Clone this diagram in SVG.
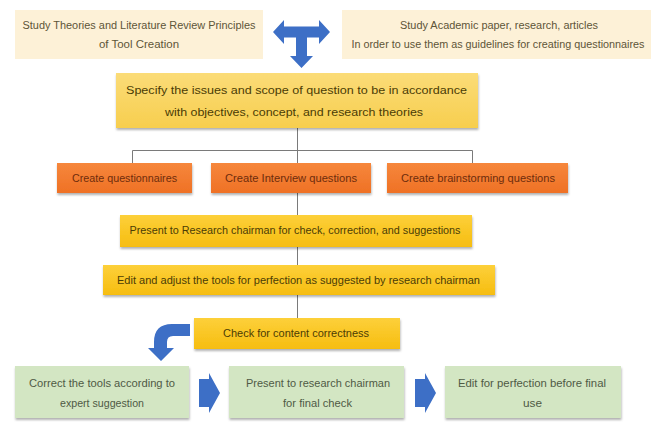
<svg xmlns="http://www.w3.org/2000/svg" width="651" height="425" viewBox="0 0 651 425">
<defs>
<filter id="sh" x="-5%" y="-10%" width="110%" height="140%">
<feDropShadow dx="0.5" dy="2" stdDeviation="1.2" flood-color="#000" flood-opacity="0.3"/>
</filter>
<linearGradient id="gy1" x1="0" y1="0" x2="0" y2="1">
<stop offset="0" stop-color="#fbdc78"/><stop offset="1" stop-color="#f7ce4e"/>
</linearGradient>
<linearGradient id="gy2" x1="0" y1="0" x2="0" y2="1">
<stop offset="0" stop-color="#fdd03a"/><stop offset="1" stop-color="#f6bd10"/>
</linearGradient>
<linearGradient id="go" x1="0" y1="0" x2="0" y2="1">
<stop offset="0" stop-color="#f6873c"/><stop offset="1" stop-color="#ef7125"/>
</linearGradient>
</defs>
<style>
text{font-family:"Liberation Sans",Arial,sans-serif;font-size:10px;text-anchor:middle}
.cream{fill:#fdf1d7}
.y1{fill:url(#gy1)}
.y2{fill:url(#gy2)}
.or{fill:url(#go)}
.gr{fill:#d3e6c3}
.tc{fill:#5e5538}
.ty{fill:#4b3c05}
.to{fill:#6e2c0c}
.tg{fill:#4f5a45}
.ln{stroke:#7a7a7a;stroke-width:1;fill:none}
.bl{fill:#3d6fc6}
</style>
<rect width="651" height="425" fill="#ffffff"/>
<g id="connectors">
<path class="ln" d="M297.5 128V150.5M132.5 163V150.5H472.5V163M297.5 150.5V163M297.5 193V215M297.5 247V265M297.5 295V318"/>
</g>
<g id="arrow-t">
<polygon class="bl" points="273,32 284,20 284,26.5 319,26.5 319,20 330,32 319,44 319,37.5 307,37.5 307,56 313,56 301.5,68 290,56 296,56 296,37.5 284,37.5 284,44"/>
</g>
<g id="n1">
<rect class="cream" x="15" y="10" width="248" height="49"/>
<text class="tc" x="139" y="29" textLength="233" lengthAdjust="spacingAndGlyphs">Study Theories and Literature Review Principles</text>
<text class="tc" x="139" y="48" textLength="80" lengthAdjust="spacingAndGlyphs">of Tool Creation</text>
</g>
<g id="n2">
<rect class="cream" x="342" y="10" width="309" height="49"/>
<text class="tc" x="499" y="29" textLength="198" lengthAdjust="spacingAndGlyphs">Study Academic paper, research, articles</text>
<text class="tc" x="498" y="48" textLength="293" lengthAdjust="spacingAndGlyphs">In order to use them as guidelines for creating questionnaires</text>
</g>
<g id="n3">
<rect class="y1" x="116" y="73" width="362" height="55" filter="url(#sh)"/>
<text class="ty" x="296.5" y="94" font-size="11" textLength="341" lengthAdjust="spacingAndGlyphs">Specify the issues and scope of question to be in accordance</text>
<text class="ty" x="294" y="116" font-size="11" textLength="258" lengthAdjust="spacingAndGlyphs">with objectives, concept, and research theories</text>
</g>
<g id="n4">
<rect class="or" x="57" y="163" width="135" height="30" filter="url(#sh)"/>
<text class="to" x="124.5" y="182" textLength="105" lengthAdjust="spacingAndGlyphs">Create questionnaires</text>
</g>
<g id="n5">
<rect class="or" x="211" y="163" width="160" height="30" filter="url(#sh)"/>
<text class="to" x="291" y="182" textLength="132" lengthAdjust="spacingAndGlyphs">Create Interview questions</text>
</g>
<g id="n6">
<rect class="or" x="387" y="163" width="181" height="30" filter="url(#sh)"/>
<text class="to" x="478" y="182" textLength="154" lengthAdjust="spacingAndGlyphs">Create brainstorming questions</text>
</g>
<g id="n7">
<rect class="y2" x="120" y="215" width="352" height="32" filter="url(#sh)"/>
<text class="ty" x="295" y="234" textLength="331" lengthAdjust="spacingAndGlyphs">Present to Research chairman for check, correction, and suggestions</text>
</g>
<g id="n8">
<rect class="y2" x="103" y="265" width="392" height="30" filter="url(#sh)"/>
<text class="ty" x="298.5" y="284" textLength="363" lengthAdjust="spacingAndGlyphs">Edit and adjust the tools for perfection as suggested by research chairman</text>
</g>
<g id="n9">
<rect class="y2" x="194" y="318" width="206" height="31" filter="url(#sh)"/>
<text class="ty" x="296" y="337" textLength="146" lengthAdjust="spacingAndGlyphs">Check for content correctness</text>
</g>
<g id="arrow-bend">
<path class="bl" d="M190 324H172Q154 324 154 342V348H148L161 361L174 348H167V342Q167 336 173 336H190Z"/>
</g>
<g id="n10">
<rect class="gr" x="15" y="366" width="174" height="52" filter="url(#sh)"/>
<text class="tg" x="102" y="387" textLength="146" lengthAdjust="spacingAndGlyphs">Correct the tools according to</text>
<text class="tg" x="102" y="407" textLength="84" lengthAdjust="spacingAndGlyphs">expert suggestion</text>
</g>
<g id="arrow-r1">
<polygon class="bl" points="199,379 209,379 209,373 220,393 209,413 209,407 199,407"/>
</g>
<g id="n11">
<rect class="gr" x="229" y="366" width="175" height="52" filter="url(#sh)"/>
<text class="tg" x="318" y="387" textLength="144" lengthAdjust="spacingAndGlyphs">Present to research chairman</text>
<text class="tg" x="317.5" y="407" textLength="69" lengthAdjust="spacingAndGlyphs">for final check</text>
</g>
<g id="arrow-r2">
<polygon class="bl" points="415,379 425,379 425,373 436,393 425,413 425,407 415,407"/>
</g>
<g id="n12">
<rect class="gr" x="445" y="366" width="176" height="52" filter="url(#sh)"/>
<text class="tg" x="532" y="387" textLength="148" lengthAdjust="spacingAndGlyphs">Edit for perfection before final</text>
<text class="tg" x="532.5" y="407" textLength="19" lengthAdjust="spacingAndGlyphs">use</text>
</g>
</svg>
